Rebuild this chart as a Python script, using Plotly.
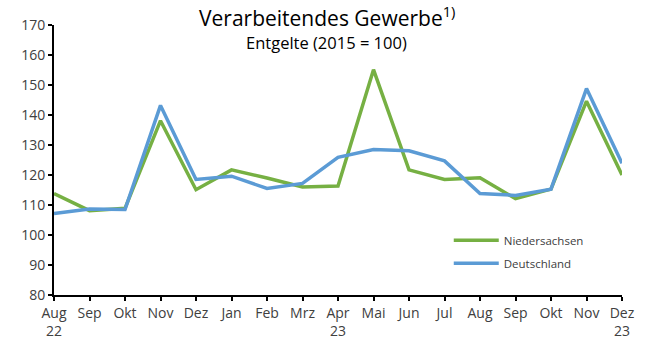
import plotly.graph_objects as go

# Monthly wage index (2015 = 100), manufacturing sector
months = ["Aug<br>22", "Sep", "Okt", "Nov", "Dez", "Jan", "Feb", "Mrz", "Apr<br>23",
          "Mai", "Jun", "Jul", "Aug", "Sep", "Okt", "Nov", "Dez<br>23"]
niedersachsen = [113.8, 108.1, 108.9, 138.1, 115.1, 121.7, 119.0, 116.0, 116.3,
                 155.1, 121.7, 118.5, 119.1, 112.1, 115.3, 144.6, 120.0]
deutschland = [107.2, 108.7, 108.5, 143.2, 118.5, 119.6, 115.5, 117.2, 125.9,
               128.5, 128.1, 124.7, 113.8, 113.2, 115.3, 148.8, 123.9]
y_ticks = [80, 90, 100, 110, 120, 130, 140, 150, 160, 170]

x = list(range(len(months)))
font_family = "Open Sans, Noto Sans, sans-serif"

fig = go.Figure()
fig.add_trace(go.Scatter(x=x, y=niedersachsen, mode="lines", name="Niedersachsen",
                         legendgroup="nds",
                         line=dict(color="#76B043", width=3.5)))
fig.add_trace(go.Scatter(x=x, y=deutschland, mode="lines", name="Deutschland",
                         legendgroup="de",
                         line=dict(color="#5B9BD5", width=3.5)))

fig.update_layout(
    width=650, height=343,
    margin=dict(l=54, r=28, t=25, b=48, autoexpand=False),
    paper_bgcolor="white", plot_bgcolor="white",
    font=dict(family=font_family, color="#404040", size=14),
    showlegend=True,
    legend=dict(x=0.695, y=0.16, xanchor="left", yanchor="middle",
                bgcolor="rgba(0,0,0,0)", font=dict(size=11.5, color="#404040"),
                itemwidth=45, tracegroupgap=4),
    xaxis=dict(range=[0, 16], tickvals=x, ticktext=months, showgrid=False,
               zeroline=False, showline=True, linecolor="black", linewidth=2,
               ticks="outside", ticklen=4, tickwidth=2, tickcolor="black",
               automargin=False),
    yaxis=dict(range=[80, 170], tickvals=y_ticks, showgrid=False, zeroline=False,
               showline=True, linecolor="black", linewidth=2,
               ticks="outside", ticklen=4, tickwidth=2, tickcolor="black",
               automargin=False),
)

fig.add_annotation(text="Verarbeitendes Gewerbe<sup>1)</sup>", xref="paper", yref="paper",
                   x=0.48, y=1.0, xanchor="center", yanchor="middle", yshift=9,
                   showarrow=False, font=dict(size=21, color="black", family=font_family))
fig.add_annotation(text="Entgelte (2015 = 100)", xref="paper", yref="paper",
                   x=0.48, y=1.0, xanchor="center", yanchor="middle", yshift=-17,
                   showarrow=False, font=dict(size=16.5, color="black", family=font_family))

fig.write_html("out.html")
